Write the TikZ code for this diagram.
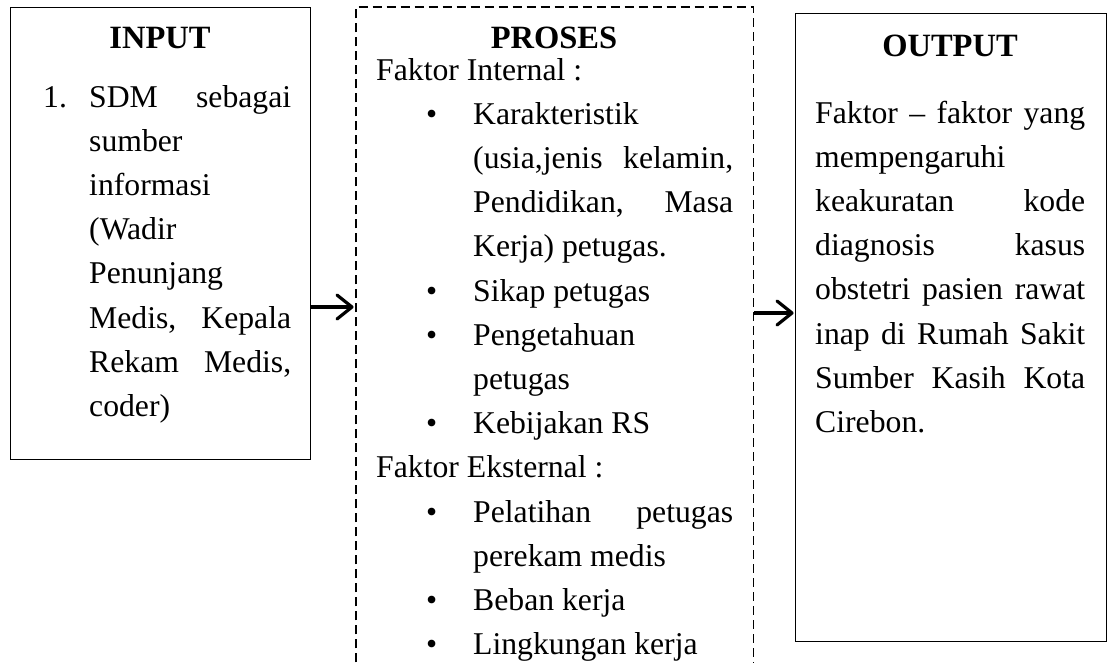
\documentclass[tikz,border=0pt]{standalone}
\usepackage{fontspec}
\setmainfont{Liberation Serif}
\newcommand\pbul{\makebox[97pt][l]{\hspace*{50pt}\textbullet}}
\newcommand\pind{\hspace*{97pt}}
\begin{document}
\begin{tikzpicture}[x=1pt,y=-1pt,
  txt/.style={anchor=base west, inner sep=0pt, font=\fontsize{31.7pt}{44.2pt}\selectfont},
  ttl/.style={anchor=base, inner sep=0pt, font=\fontsize{32.5pt}{40pt}\selectfont\bfseries},
  box/.style={draw=black, line width=1.4pt, inner sep=0pt, anchor=north west},
  dashline/.style={draw=black, line width=1.3pt, dash pattern=on 9pt off 5pt},
  arrshaft/.style={draw=black, line width=3.2pt},
  arrhead/.style={draw=black, line width=3.2pt, line cap=round, line join=round}]
\useasboundingbox (0,0) rectangle (1110,662);

% boxes
\node[box, minimum width=300pt, minimum height=452pt] (inbox) at (10,7) {};
\node[inner sep=0pt, anchor=north west, minimum width=397pt, minimum height=655pt] (proc) at (356,7) {};
\draw[dashline] (proc.south west) -- (proc.north west) -- (proc.north east) -- (proc.south east);
\node[box, minimum width=311pt, minimum height=628pt] (outbox) at (795,13) {};

% titles
\node[ttl] (tin) at (160,48) {INPUT};
\node[ttl] (tpr) at (554,48) {PROSES};
\node[ttl] (tout) at (950,56) {OUTPUT};

% input text
\node[txt] (num) at (43,107) {1.};
\node[txt] (intext) at (89,107) {\parbox[t]{202pt}{%
\makebox[202pt][s]{SDM sebagai}\\
sumber\\
informasi\\
(Wadir\\
Penunjang\\
\makebox[202pt][s]{Medis, Kepala}\\
\makebox[202pt][s]{Rekam Medis,}\\
coder)}};

% process text
\node[txt] (prtext) at (376,80) {\parbox[t]{357pt}{%
Faktor Internal :\\
\pbul Karakteristik\\
\pind\makebox[260pt][s]{(usia,jenis kelamin,}\\
\pind\makebox[260pt][s]{Pendidikan, Masa}\\
\pind Kerja) petugas.\\
\pbul Sikap petugas\\
\pbul Pengetahuan\\
\pind petugas\\
\pbul Kebijakan RS\\
Faktor Eksternal :\\
\pbul\makebox[260pt][s]{Pelatihan petugas}\\
\pind perekam medis\\
\pbul Beban kerja\\
\pbul Lingkungan kerja}};

% output text
\node[txt] (outtext) at (815,123) {\parbox[t]{270pt}{%
\makebox[270pt][s]{Faktor -- faktor yang}\\
mempengaruhi\\
\makebox[270pt][s]{keakuratan kode}\\
\makebox[270pt][s]{diagnosis kasus}\\
\makebox[270pt][s]{obstetri pasien rawat}\\
\makebox[270pt][s]{inap di Rumah Sakit}\\
\makebox[270pt][s]{Sumber Kasih Kota}\\
Cirebon.}};

% arrows
\coordinate (a1) at (0,307);
\coordinate (a2) at (0,313);
\coordinate (a1s) at (inbox.east |- a1);
\coordinate (a1e) at ([xshift=-4pt]proc.west |- a1);
\coordinate (a2s) at ([xshift=1pt]proc.east |- a2);
\coordinate (a2e) at ([xshift=-3pt]outbox.west |- a2);
\draw[arrshaft] (a1s) -- (a1e);
\draw[arrhead] (a1e) ++(-15,-12) -- (a1e) -- ++(-15,12);
\draw[arrshaft] (a2s) -- (a2e);
\draw[arrhead] (a2e) ++(-15,-12) -- (a2e) -- ++(-15,12);
\end{tikzpicture}
\end{document}
